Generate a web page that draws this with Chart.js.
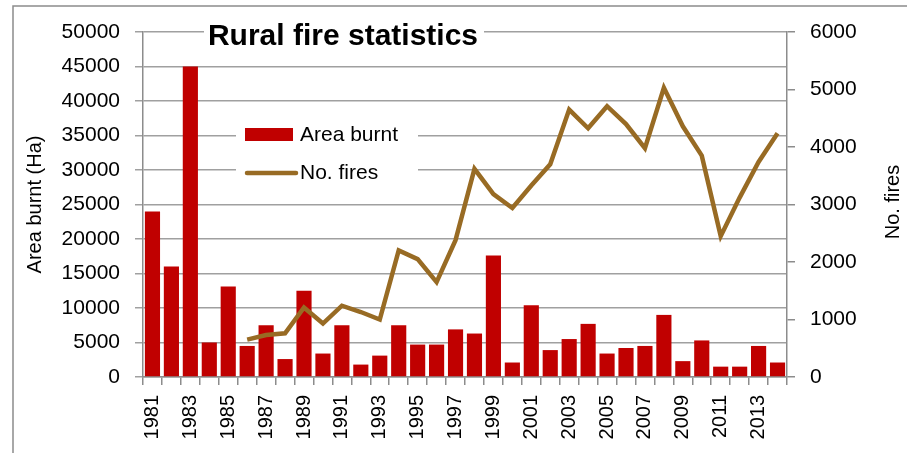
<!DOCTYPE html>
<html>
<head>
<meta charset="utf-8">
<script src="https://cdn.jsdelivr.net/npm/chart.js@4.4.0/dist/chart.umd.min.js"></script>
<style>
  html, body { margin: 0; padding: 0; background: #fff; }
  #wrap { width: 907px; height: 453px; position: relative; }
</style>
</head>
<body>
<div id="wrap"><canvas id="myChart"></canvas></div>
<script>
const years = ["1981","1982","1983","1984","1985","1986","1987","1988","1989","1990",
  "1991","1992","1993","1994","1995","1996","1997","1998","1999","2000",
  "2001","2002","2003","2004","2005","2006","2007","2008","2009","2010",
  "2011","2012","2013","2014"];

const areaBurnt = [24000, 16000, 45000, 5000, 13100, 4500, 7500, 2600, 12500, 3400,
  7500, 1800, 3100, 7500, 4700, 4700, 6900, 6300, 17600, 2100,
  10400, 3900, 5500, 7700, 3400, 4200, 4500, 9000, 2300, 5300,
  1500, 1500, 4500, 2100];

const noFires = [null, null, null, null, null, 650, 730, 760, 1210, 930,
  1240, 1130, 1000, 2200, 2050, 1650, 2380, 3620, 3180, 2940,
  3330, 3700, 4650, 4325, 4710, 4400, 3980, 5030, 4360, 3850,
  2450, 3120, 3740, 4240];

const leftTicks = [0, 5000, 10000, 15000, 20000, 25000, 30000, 35000, 40000, 45000, 50000];
const rightTicks = [0, 1000, 2000, 3000, 4000, 5000, 6000];

const FONT = "'Liberation Sans', Arial, sans-serif";
const BAR_COLOR = "#C00000";
const LINE_COLOR = "#986B24";
const AXIS_COLOR = "#8c8c8c";

const ctx = document.getElementById("myChart").getContext("2d");

const decorPlugin = {
  id: "decor",
  beforeDraw(chart) {
    const c = chart.ctx;
    c.save();
    c.fillStyle = "#fff";
    c.fillRect(0, 0, chart.width, chart.height);
    c.strokeStyle = "#8c8c8c";
    c.lineWidth = 1.5;
    c.strokeRect(13, 6, chart.width + 10, chart.height + 10);
    c.restore();
  },
  afterDraw(chart) {
    const c = chart.ctx;
    c.save();
    // title over the top gridline
    c.fillStyle = "#fff";
    c.fillRect(204, 22, 280, 30);
    c.fillStyle = "#000";
    c.font = "bold 30px " + FONT;
    c.textAlign = "center";
    c.textBaseline = "alphabetic";
    c.fillText("Rural fire statistics", 343, 45);

    // legend box
    c.fillStyle = "#fff";
    c.fillRect(236, 112, 182, 80);
    c.fillStyle = BAR_COLOR;
    c.fillRect(245, 128, 48, 13);
    c.strokeStyle = LINE_COLOR;
    c.lineWidth = 4.5;
    c.lineCap = "round";
    c.beginPath();
    c.moveTo(247, 173);
    c.lineTo(296, 173);
    c.stroke();
    c.fillStyle = "#000";
    c.font = "21px " + FONT;
    c.textAlign = "left";
    c.textBaseline = "middle";
    c.fillText("Area burnt", 300, 135);
    c.fillText("No. fires", 300, 173);

    // right axis title (reads bottom to top)
    c.translate(893, 202);
    c.rotate(-Math.PI / 2);
    c.textAlign = "center";
    c.font = "20px " + FONT;
    c.fillText("No. fires", 0, 0);
    c.restore();
  }
};

const myChart = new Chart(ctx, {
  data: {
    labels: years,
    datasets: [
      {
        type: "line",
        label: "No. fires",
        data: noFires,
        yAxisID: "y1",
        borderColor: LINE_COLOR,
        backgroundColor: LINE_COLOR,
        borderWidth: 4.5,
        pointRadius: 0,
        tension: 0,
        order: 0,
      },
      {
        type: "bar",
        label: "Area burnt",
        data: areaBurnt,
        yAxisID: "y",
        backgroundColor: BAR_COLOR,
        barPercentage: 0.8,
        categoryPercentage: 1,
        order: 1,
      },
    ],
  },
  options: {
    responsive: true,
    maintainAspectRatio: false,
    animation: false,
    layout: { padding: { top: 32, left: 0, right: 0, bottom: 0 } },
    plugins: {
      legend: { display: false },
      title: { display: false },
      tooltip: { enabled: false },
    },
    scales: {
      x: {
        offset: true,
        grid: {
          offset: true,
          drawOnChartArea: false,
          drawTicks: true,
          tickLength: 8,
          color: AXIS_COLOR,
          lineWidth: 1.5,
        },
        border: { color: AXIS_COLOR, width: 1.5 },
        ticks: {
          autoSkip: false,
          minRotation: 90,
          maxRotation: 90,
          padding: 10,
          color: "#000",
          font: { family: FONT, size: 20 },
          callback: (val, i) => (i % 2 === 0 ? years[i] : ""),
        },
        afterFit: (scale) => { scale.height = 76; },
      },
      y: {
        position: "left",
        min: 0,
        max: 50000,
        afterBuildTicks: (scale) => { scale.ticks = leftTicks.map((v) => ({ value: v })); },
        grid: {
          color: "#a0a0a0",
          lineWidth: 1.5,
          tickLength: 8,
        },
        border: { color: AXIS_COLOR, width: 1.5 },
        ticks: {
          padding: 15,
          color: "#000",
          font: { family: FONT, size: 21 },
          callback: (v) => String(v),
        },
        title: {
          display: true,
          text: "Area burnt (Ha)",
          color: "#000",
          font: { family: FONT, size: 20 },
          padding: { top: 23, bottom: 0 },
        },
        afterFit: (scale) => { scale.width = 143; },
      },
      y1: {
        position: "right",
        min: 0,
        max: 6000,
        afterBuildTicks: (scale) => { scale.ticks = rightTicks.map((v) => ({ value: v })); },
        grid: {
          drawOnChartArea: false,
          color: AXIS_COLOR,
          lineWidth: 1.5,
          tickLength: 8,
        },
        border: { color: AXIS_COLOR, width: 1.5 },
        ticks: {
          padding: 15,
          color: "#000",
          font: { family: FONT, size: 21 },
          callback: (v) => String(v),
        },
        afterFit: (scale) => { scale.width = 120; },
      },
    },
  },
  plugins: [decorPlugin],
});
</script>
</body>
</html>
